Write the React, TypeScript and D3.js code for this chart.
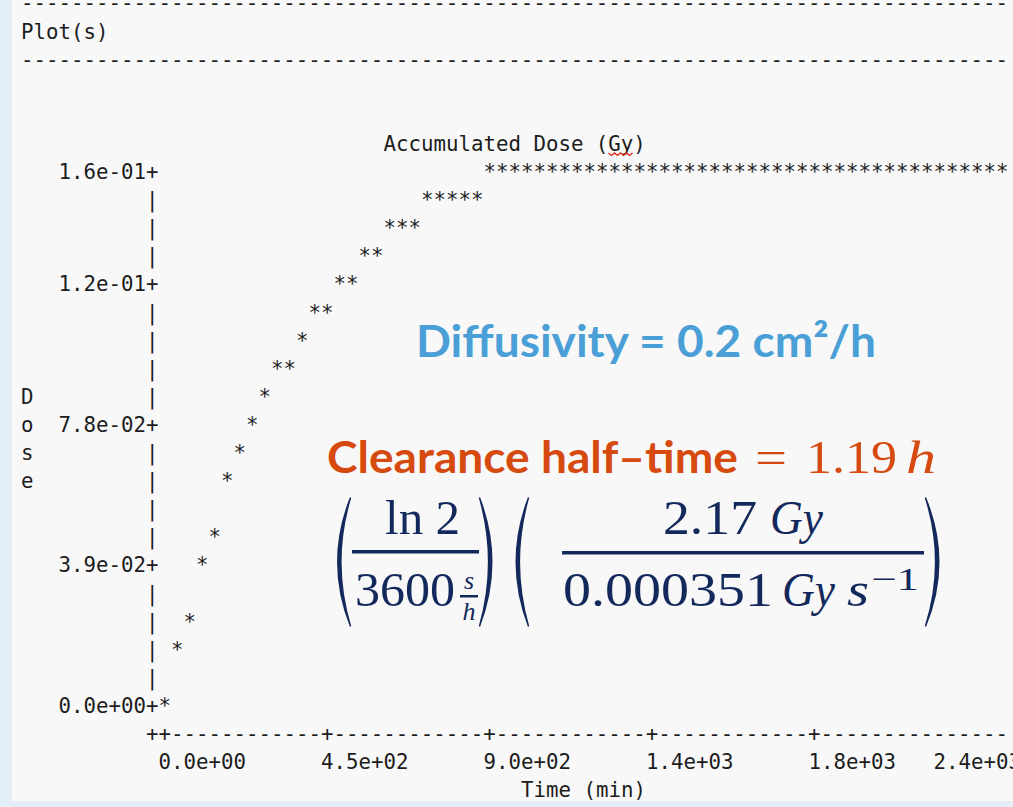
import React from "react";
import * as d3 from "d3";

// Accumulated dose samples, every 30 minutes over 40 hours
const TIME_MIN = [
  0, 30, 60, 90, 120, 150, 180, 210, 240, 270, 300, 330, 360, 390, 420, 450,
  480, 510, 540, 570, 600, 630, 660, 690, 720, 750, 780, 810, 840, 870, 900,
  930, 960, 990, 1020, 1050, 1080, 1110, 1140, 1170, 1200, 1230, 1260, 1290,
  1320, 1350, 1380, 1410, 1440, 1470, 1500, 1530, 1560, 1590, 1620, 1650,
  1680, 1710, 1740, 1770, 1800, 1830, 1860, 1890, 1920, 1950, 1980, 2010,
  2040, 2070, 2100, 2130, 2160, 2190, 2220, 2250, 2280, 2310, 2340, 2370, 2400,
];
const DOSE_GY = [
  0.0, 0.016, 0.025, 0.04, 0.044, 0.05, 0.064, 0.072, 0.08, 0.088, 0.095,
  0.1, 0.102, 0.106, 0.111, 0.116, 0.12, 0.124, 0.128, 0.131, 0.134, 0.137,
  0.139, 0.142, 0.144, 0.146, 0.147, 0.149, 0.15, 0.151, 0.152, 0.153, 0.153,
  0.154, 0.154, 0.155, 0.155, 0.155, 0.155, 0.156, 0.156, 0.156, 0.156, 0.156,
  0.156, 0.156, 0.156, 0.156, 0.156, 0.156, 0.156, 0.156, 0.156, 0.156, 0.156,
  0.156, 0.156, 0.156, 0.156, 0.156, 0.156, 0.156, 0.156, 0.156, 0.156, 0.156,
  0.156, 0.156, 0.156, 0.156, 0.156, 0.156, 0.156, 0.156, 0.156, 0.156, 0.156,
  0.156, 0.156, 0.156, 0.156,
];

const Y_TICK_VALUES = [0.156, 0.117, 0.078, 0.039, 0];
const Y_TICK_LABELS = ["1.6e-01", "1.2e-01", "7.8e-02", "3.9e-02", "0.0e+00"];
const X_TICK_VALUES = [0, 450, 900, 1350, 1800, 2400];
const X_TICK_LABELS = ["0.0e+00", "4.5e+02", "9.0e+02", "1.4e+03", "1.8e+03", "2.4e+03"];

const TITLE = "Accumulated Dose (Gy)";
const X_TITLE = "Time (min)";
const Y_TITLE = "Dose";

// character-cell layout of the text plot
const W = 1013;
const H = 807;
const CW = 12.5; // advance of one monospace cell
const LH = 28.1; // line pitch
const LEFT = 21;
const BASE0 = 10.4;
const FONT = 20.76;
const INK = "#1c1c1c";
const AXIS_COL = 10;
const FIRST_COL = 11;
const LAST_COL = 80;
const VISIBLE_COLS = 79;
const PLOT_ROWS = 19;
const PLOT_LINE0 = 6;

const cx = (col: number) => LEFT + col * CW;
const by = (line: number) => BASE0 + line * LH;

function Cell({ col, line, text, fill = INK }: { col: number; line: number; text: string; fill?: string }) {
  return (
    <text x={cx(col)} y={by(line)} fill={fill} style={{ whiteSpace: "pre" }}>
      {text}
    </text>
  );
}

function Paren({ x0, x1, top, bottom, left, color }: { x0: number; x1: number; top: number; bottom: number; left: boolean; color: string }) {
  const mid = (top + bottom) / 2;
  const tip = left ? x1 : x0;
  const belly = left ? x0 - 5 : x1 + 5;
  const inner = left ? x0 + 3 : x1 - 3;
  const d = left
    ? `M${tip},${top} Q${belly},${mid} ${tip},${bottom} L${tip + 1.2},${bottom - 1} Q${inner},${mid} ${tip + 1.2},${top + 1} Z`
    : `M${tip},${top} Q${belly},${mid} ${tip},${bottom} L${tip - 1.2},${bottom - 1} Q${inner},${mid} ${tip - 1.2},${top + 1} Z`;
  return <path d={d} fill={color} />;
}

export default function App() {
  const x = d3.scaleLinear().domain([0, 2400]).range([FIRST_COL, LAST_COL]);
  const y = d3.scaleLinear().domain([0, 0.156]).range([PLOT_ROWS, 0]);

  // one asterisk per occupied cell
  const cells = new Map<string, { col: number; row: number }>();
  TIME_MIN.forEach((t, i) => {
    const col = Math.round(x(t));
    const row = Math.round(y(DOSE_GY[i]));
    cells.set(`${col}:${row}`, { col, row });
  });
  const stars = Array.from(cells.values());

  const yTicks = Y_TICK_VALUES.map((v, i) => ({ row: Math.floor(y(v)), label: Y_TICK_LABELS[i] }));
  const tickRows = new Set(yTicks.map((d) => d.row));
  const xTicks = X_TICK_VALUES.map((v, i) => ({ col: Math.round(x(v)), label: X_TICK_LABELS[i] }));

  const dashes = "-".repeat(VISIBLE_COLS);
  // axis row: corner "+" at the y axis, then dashes with "+" at each tick column
  const axisLine = d3
    .range(AXIS_COL + 1, VISIBLE_COLS)
    .map((c) => (xTicks.some((t) => t.col === c) ? "+" : "-"))
    .join("");

  const navy = "#13295c";
  const orange = "#d64a10";
  const blue = "#4a9fd6";
  const serif = "'Liberation Serif', 'DejaVu Serif', serif";

  return (
    <svg width={W} height={H} style={{ position: "absolute", left: 0, top: 0 }}>
      <rect x={0} y={0} width={W} height={H} fill="#f8f8f8" />
      <rect x={0} y={0} width={12} height={H} fill="#e4eef6" />
      <rect x={0} y={801} width={W} height={H - 801} fill="#e4eef6" />

      <g fontFamily="'DejaVu Sans Mono', monospace" fontSize={FONT}>
        <Cell col={0} line={0} text={dashes} />
        <Cell col={0} line={1} text="Plot(s)" />
        <Cell col={0} line={2} text={dashes} />
        <Cell col={29} line={5} text={TITLE} />

        {/* y axis: tick labels with "+" and "|" fillers */}
        {yTicks.map((t) => (
          <Cell key={t.label} col={AXIS_COL - t.label.length} line={PLOT_LINE0 + t.row} text={t.label + "+"} />
        ))}
        {d3.range(0, PLOT_ROWS + 1)
          .filter((r) => !tickRows.has(r))
          .map((r) => (
            <Cell key={"bar" + r} col={AXIS_COL} line={PLOT_LINE0 + r} text="|" />
          ))}
        {Y_TITLE.split("").map((ch, i) => (
          <Cell key={"yt" + i} col={0} line={PLOT_LINE0 + 8 + i} text={ch} />
        ))}

        {/* x axis */}
        <Cell col={AXIS_COL} line={PLOT_LINE0 + PLOT_ROWS + 1} text={"+" + axisLine} />
        {xTicks.map((t) => (
          <Cell
            key={t.label}
            col={Math.min(t.col, LAST_COL - t.label.length)}
            line={PLOT_LINE0 + PLOT_ROWS + 2}
            text={t.label}
          />
        ))}
        <Cell col={40} line={PLOT_LINE0 + PLOT_ROWS + 3} text={X_TITLE} />

        {/* data */}
        {stars
          .filter((s) => s.col < VISIBLE_COLS)
          .map((s) => (
            <Cell key={`s${s.col}-${s.row}`} col={s.col} line={PLOT_LINE0 + s.row} text="*" />
          ))}
      </g>

      {/* spell-check squiggle under the unit */}
      <path
        d={`M${cx(47)},${by(5) + 2} l3,2.5 l3,-2.5 l3,2.5 l3,-2.5 l3,2.5 l3,-2.5 l3,2.5 l3,-2.5`}
        fill="none"
        stroke="#e0281e"
        strokeWidth={1.3}
      />

      {/* annotations */}
      <text x={416} y={357} fill={blue} fontFamily="Lato, 'Open Sans', sans-serif" fontWeight={700} fontSize={44} textLength={460} lengthAdjust="spacingAndGlyphs">
        Diffusivity = 0.2 cm²/h
      </text>

      <text x={327} y={473} fill={orange} fontFamily="Lato, 'Open Sans', sans-serif" fontWeight={700} fontSize={44} textLength={411} lengthAdjust="spacingAndGlyphs">
        Clearance half–time
      </text>
      <g fill={orange} fontFamily={serif} fontSize={46}>
        <text x={755} y={473} textLength={32} lengthAdjust="spacingAndGlyphs">=</text>
        <text x={806} y={473} textLength={91} lengthAdjust="spacingAndGlyphs">1.19</text>
        <text x={906} y={473} fontStyle="italic" textLength={30} lengthAdjust="spacingAndGlyphs">h</text>
      </g>

      <g fill={navy} fontFamily={serif}>
        <Paren x0={329} x1={350} top={497} bottom={627} left={true} color={navy} />
        <text x={385} y={534} fontSize={48} textLength={75} lengthAdjust="spacingAndGlyphs">ln 2</text>
        <rect x={352} y={550} width={127} height={3.5} />
        <text x={355} y={606} fontSize={48} textLength={100} lengthAdjust="spacingAndGlyphs">3600</text>
        <text x={469} y={589} fontSize={26} fontStyle="italic" textAnchor="middle">s</text>
        <rect x={460} y={595} width={18} height={2.5} />
        <text x={469} y={620} fontSize={26} fontStyle="italic" textAnchor="middle">h</text>
        <Paren x0={480} x1={500} top={497} bottom={627} left={false} color={navy} />

        <Paren x0={508} x1={528} top={497} bottom={627} left={true} color={navy} />
        <text x={663} y={534} fontSize={48} textLength={94} lengthAdjust="spacingAndGlyphs">2.17</text>
        <text x={770} y={534} fontSize={48} fontStyle="italic" textLength={53} lengthAdjust="spacingAndGlyphs">Gy</text>
        <rect x={562} y={551} width={362} height={3.5} />
        <text x={563} y={606} fontSize={48} textLength={210} lengthAdjust="spacingAndGlyphs">0.000351</text>
        <text x={782} y={606} fontSize={48} fontStyle="italic" textLength={53} lengthAdjust="spacingAndGlyphs">Gy</text>
        <text x={847} y={606} fontSize={48} fontStyle="italic" textLength={22} lengthAdjust="spacingAndGlyphs">s</text>
        <text x={871} y={590} fontSize={32} textLength={48} lengthAdjust="spacingAndGlyphs">−1</text>
        <Paren x0={926} x1={948} top={497} bottom={627} left={false} color={navy} />
      </g>
    </svg>
  );
}
